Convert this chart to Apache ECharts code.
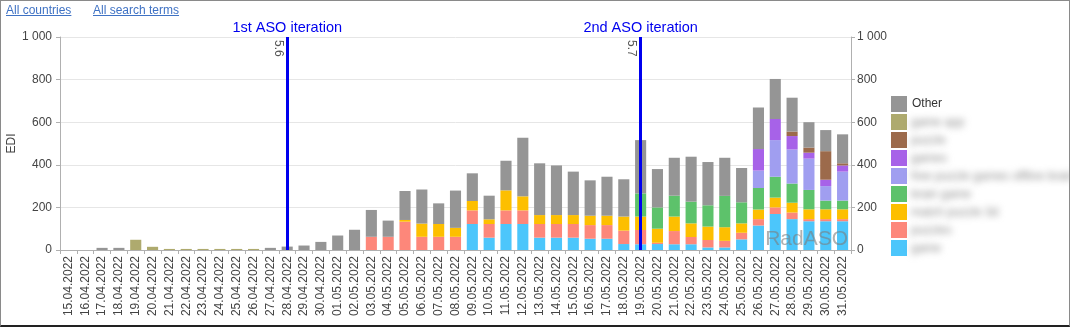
<!DOCTYPE html>
<html>
<head>
<meta charset="utf-8">
<script src="https://cdn.jsdelivr.net/npm/echarts@6/dist/echarts.min.js"></script>
<style>
html,body{margin:0;padding:0;background:#fff;}
#wrap{position:relative;width:1070px;height:327px;overflow:hidden;}
#chart{position:absolute;left:0;top:0;width:1070px;height:327px;}
#frame{position:absolute;left:0;top:0;width:1070px;height:327px;box-sizing:border-box;border:1px solid #8a8a8a;border-bottom:2px solid #222;pointer-events:none;}
.lnk{position:absolute;top:3px;font-family:"Liberation Sans",Arial,sans-serif;font-size:12px;color:#3f72c4;text-decoration:underline;}
.blur{position:absolute;left:911px;font-family:"Liberation Sans",Arial,sans-serif;font-size:12px;color:#8a8a8a;filter:blur(3.5px);white-space:nowrap;line-height:14px;}
</style>
</head>
<body>
<div id="wrap">
<div id="chart"></div>
<a class="lnk" style="left:6px">All countries</a>
<a class="lnk" style="left:93px">All search terms</a>
<div id="legendText"></div>
<div id="frame"></div>
</div>
<script>
const categories = ['15.04.2022','16.04.2022','17.04.2022','18.04.2022','19.04.2022','20.04.2022','21.04.2022','22.04.2022','23.04.2022','24.04.2022','25.04.2022','26.04.2022','27.04.2022','28.04.2022','29.04.2022','30.04.2022','01.05.2022','02.05.2022','03.05.2022','04.05.2022','05.05.2022','06.05.2022','07.05.2022','08.05.2022','09.05.2022','10.05.2022','11.05.2022','12.05.2022','13.05.2022','14.05.2022','15.05.2022','16.05.2022','17.05.2022','18.05.2022','19.05.2022','20.05.2022','21.05.2022','22.05.2022','23.05.2022','24.05.2022','25.05.2022','26.05.2022','27.05.2022','28.05.2022','29.05.2022','30.05.2022','31.05.2022'];

const cyanVals     = [0,0,0,0,0,0,0,0,0,0,0,0,0,0,0,0,0,0,0,0,0,0,0,0,122,58,122,122,58,58,58,53,53,28,27,28,27,27,12,12,50,115,169,145,135,135,135];
const salmonVals   = [0,0,0,0,0,0,0,0,0,0,0,0,0,0,0,0,0,0,62,62,133,62,62,62,64,64,64,64,64,64,64,64,64,63,67,6,62,34,35,31,31,30,31,31,10,10,10];
const orangeVals   = [0,0,0,0,0,0,0,0,0,0,0,0,0,0,0,0,0,0,0,0,8,62,60,42,44,22,94,66,42,42,42,44,44,66,63,66,68,64,63,64,44,45,46,46,46,46,46];
const greenVals    = [0,0,0,0,0,0,0,0,0,0,0,0,0,0,0,0,0,0,0,0,0,0,0,0,0,0,0,0,0,0,0,0,0,0,109,100,98,102,100,147,99,101,98,90,91,41,41];
const lavenderVals = [0,0,0,0,0,0,0,0,0,0,0,0,0,0,0,0,0,0,0,0,0,0,0,0,0,0,0,0,0,0,0,0,0,0,0,0,0,0,0,0,0,82,172,160,147,68,136];
const purpleVals   = [0,0,0,0,0,0,0,0,0,0,0,0,0,0,0,0,0,0,0,0,0,0,0,0,0,0,0,0,0,0,0,0,0,0,0,0,0,0,0,0,0,101,99,63,28,30,29];
const brownVals    = [0,0,0,0,0,0,0,0,0,0,0,0,0,0,0,0,0,0,0,0,0,0,0,0,0,0,0,0,0,0,0,0,0,0,0,0,0,0,0,0,0,0,0,21,24,134,10];
const oliveVals    = [0,0,0,0,48,15,5,5,5,5,5,5,0,0,0,0,0,0,0,0,0,0,0,0,0,0,0,0,0,0,0,0,0,0,0,0,0,0,0,0,0,0,0,0,0,0,0];
const otherVals    = [0,0,10,10,0,0,0,0,0,0,0,0,10,16,21,38,68,95,126,76,136,160,97,175,130,111,139,275,243,233,204,166,183,175,250,180,178,211,203,179,161,195,188,159,119,99,136];

// stack order, bottom to top (legend lists them top to bottom, reversed)
const seriesNames  = ['game','puzzles','match puzzle 3d','brain game','free puzzle games offline brain games','games','puzzle','game app','Other'];
const seriesColors = ['#4cc6fb','#fd877a','#fdbf00','#5dc26b','#a09ef0','#a762e8','#9c6a4b','#aeaa6e','#959595'];
const seriesData   = [cyanVals, salmonVals, orangeVals, greenVals, lavenderVals, purpleVals, brownVals, oliveVals, otherVals];

const yTickLabels = ['0','200','400','600','800','1 000'];
const markers = [
  {cat:'28.04.2022', title:'1st ASO iteration', ver:'5.6'},
  {cat:'19.05.2022', title:'2nd ASO iteration', ver:'5.7'}
];

const FONT = '"Liberation Sans", Arial, sans-serif';
const chart = echarts.init(document.getElementById('chart'), null, {renderer:'canvas'});

const series = seriesData.map((d,i)=>({
  name: seriesNames[i],
  type:'bar',
  stack:'total',
  data:d,
  barCategoryGap:'34%',
  itemStyle:{color:seriesColors[i]},
  emphasis:{disabled:true},
  yAxisIndex:0
}));
series[0].markLine = {
  silent:true,
  symbol:['none','none'],
  animation:false,
  lineStyle:{color:'#0000ee',width:3,type:'solid'},
  label:{show:true,position:'end',distance:1,color:'#0000ee',fontSize:14.5,fontFamily:FONT,
         backgroundColor:'#fff',padding:[1,8],formatter:p=>p.name},
  data: markers.map(m=>({xAxis:m.cat, name:m.title}))
};

const legendOrder = seriesNames.slice().reverse();

const option = {
  animation:false,
  textStyle:{fontFamily:FONT},
  grid:{left:60,right:219,top:37,bottom:77,containLabel:false,outerBoundsMode:'none'},
  legend:{
    orient:'vertical', left:886, top:91,
    itemWidth:16, itemHeight:16, itemGap:2, icon:'rect',
    data:legendOrder,
    selectedMode:false,
    formatter: n => n==='Other' ? n : '',
    textStyle:{color:'#333',fontSize:12,fontFamily:FONT}
  },
  xAxis:{
    type:'category', data:categories,
    axisLine:{lineStyle:{color:'#b0b0b0'}},
    axisTick:{show:true,alignWithLabel:false,interval:0,length:4,lineStyle:{color:'#b0b0b0'}},
    axisLabel:{interval:0,rotate:90,color:'#444',fontSize:12,fontFamily:FONT,margin:6}
  },
  yAxis:[
    {type:'value',min:0,max:1000,interval:200,name:'EDI',nameLocation:'middle',nameGap:42,nameMoveOverlap:false,
     nameTextStyle:{color:'#444',fontSize:12,fontFamily:FONT},
     axisLine:{show:true,lineStyle:{color:'#b0b0b0'}},
     axisTick:{show:true,length:4,lineStyle:{color:'#b0b0b0'}},
     axisLabel:{color:'#444',fontSize:12,fontFamily:FONT,margin:8,formatter:v=>yTickLabels[Math.round(v/200)]},
     splitLine:{lineStyle:{color:'#e6e6e6'}}},
    {type:'value',min:0,max:1000,interval:200,position:'right',
     axisLine:{show:true,lineStyle:{color:'#b0b0b0'}},
     axisTick:{show:true,length:4,lineStyle:{color:'#b0b0b0'}},
     axisLabel:{color:'#444',fontSize:12,fontFamily:FONT,margin:6,formatter:v=>yTickLabels[Math.round(v/200)]},
     splitLine:{show:false}}
  ],
  series:series
};
chart.setOption(option);

// version labels next to marker lines, positioned through the chart's own scales
const graphics = markers.map(m=>{
  const p = chart.convertToPixel({xAxisIndex:0,yAxisIndex:0},[m.cat,1000]);
  return {type:'text', x:p[0]-3, y:p[1]+3, rotation:-Math.PI/2, z:50,
          style:{text:m.ver, fill:'#555', font:'12px '+FONT, textAlign:'left', textVerticalAlign:'top'}, silent:true};
});
graphics.push({type:'text', right:222, bottom:77, silent:true, z:100,
  style:{text:'RadASO', fill:'rgba(125,125,125,0.6)', font:'21px '+FONT}});
chart.setOption({graphic:graphics});

// blurred legend labels (the reference shows them blurred out)
const lt = document.getElementById('legendText');
legendOrder.forEach((n,k)=>{
  if(n==='Other') return;
  const d = document.createElement('div');
  d.className='blur';
  d.style.top = (97 + 18*k) + 'px';
  d.textContent = n;
  lt.appendChild(d);
});
</script>
</body>
</html>
